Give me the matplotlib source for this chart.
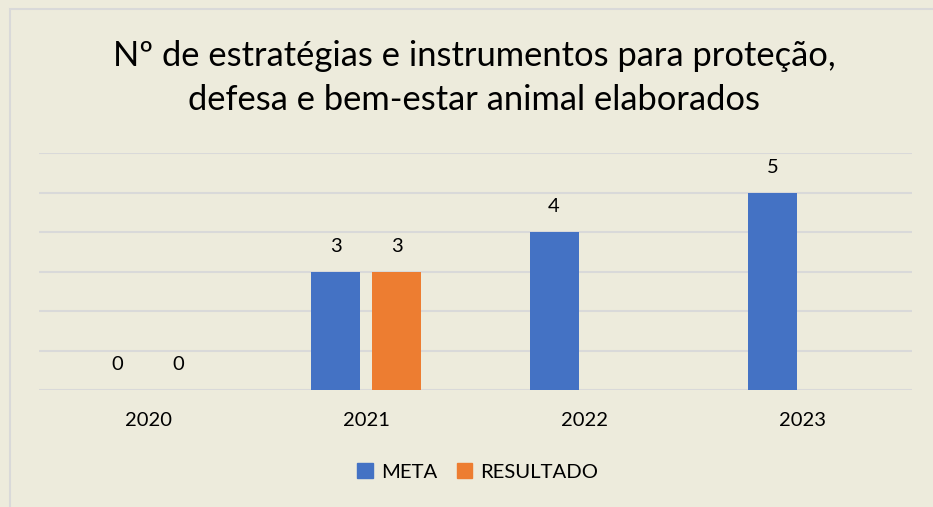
import matplotlib
matplotlib.use('Agg')
import matplotlib.pyplot as plt
import numpy as np
from matplotlib.patches import Rectangle, Patch

plt.rcParams['font.family'] = ['Lato', 'DejaVu Sans']

# data
years = ['2020', '2021', '2022', '2023']
meta = [0, 3, 4, 5]
resultado = [0, 3, None, None]

bg = '#EDEBDC'
blue = '#4472C4'
orange = '#ED7D31'

fig = plt.figure(figsize=(9.33, 5.07), dpi=100, facecolor=bg)
# chart border (left/top visible, rest cropped)
fig.patches.append(Rectangle((10 / 933, -0.1), 1.2, 1 - 9 / 507 + 0.1,
                             transform=fig.transFigure, fill=False,
                             edgecolor='#D9D9D9', linewidth=1.5))

ax = fig.add_axes([39 / 933, 1 - 390 / 507, 873 / 933, 237 / 507])
ax.set_facecolor(bg)
x = np.arange(len(years))
w = 0.225
off = 0.14

for i in range(len(years)):
    ax.bar(x[i] - off, meta[i], w, color=blue, zorder=3)
    ax.annotate(str(meta[i]), (x[i] - off, meta[i]), xytext=(0, 12),
                textcoords='offset points', ha='center', va='bottom', fontsize=14.5)
    if resultado[i] is not None:
        ax.bar(x[i] + off, resultado[i], w, color=orange, zorder=3)
        ax.annotate(str(resultado[i]), (x[i] + off, resultado[i]), xytext=(0, 12),
                    textcoords='offset points', ha='center', va='bottom', fontsize=14.5)

ax.set_xlim(-0.5, 3.5)
ax.set_ylim(0, 6)
ax.set_yticks(range(7))
ax.set_yticklabels([])
ax.tick_params(axis='y', length=0)
ax.grid(axis='y', color='#D9D9D9', linewidth=1.5, zorder=0)
ax.set_xticks(x)
ax.set_xticklabels(years, fontsize=14.5)
ax.tick_params(axis='x', length=0, pad=16)
for s in ax.spines.values():
    s.set_visible(False)

fig.text(474 / 933, 1 - 78 / 507,
         'Nº de estratégias e instrumentos para proteção,\ndefesa e bem-estar animal elaborados',
         ha='center', va='center', fontsize=24.8, linespacing=1.5)

handles = [Patch(color=blue, label='META'), Patch(color=orange, label='RESULTADO')]
fig.legend(handles=handles, loc='center', bbox_to_anchor=(478 / 933, 1 - 472 / 507),
           ncol=2, frameon=False, fontsize=14.6, handlelength=0.75, handleheight=0.75,
           columnspacing=1.0, handletextpad=0.4)

fig.savefig('out.png', dpi=100, facecolor=bg)
